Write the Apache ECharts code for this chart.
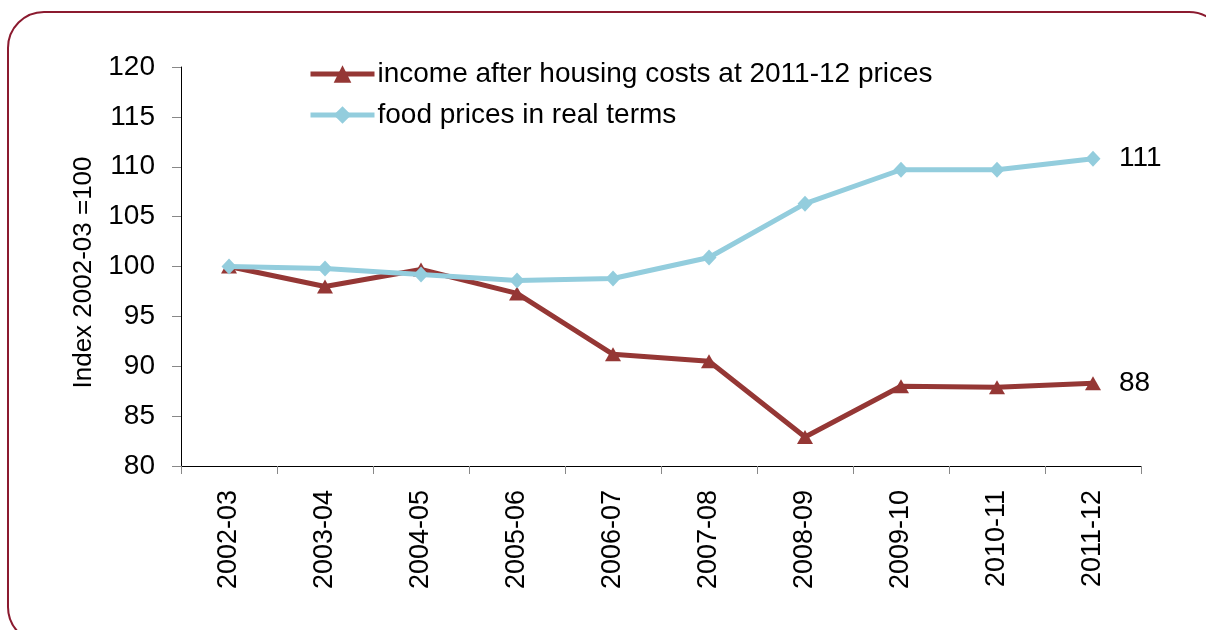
<!DOCTYPE html>
<html>
<head>
<meta charset="utf-8">
<script src="https://cdn.jsdelivr.net/npm/echarts@6/dist/echarts.min.js"></script>
<style>
  html, body { margin: 0; padding: 0; background: #fff; }
  #chart { width: 1206px; height: 630px; }
</style>
</head>
<body>
<div id="chart"></div>
<script>
// 数据
const years = ["2002-03", "2003-04", "2004-05", "2005-06", "2006-07",
  "2007-08", "2008-09", "2009-10", "2010-11", "2011-12"];
const income = [100, 98.0, 99.7, 97.3, 91.2, 90.5, 82.9, 88.0, 87.9, 88.3];
const food = [100, 99.8, 99.2, 98.6, 98.8, 100.9, 106.3, 109.7, 109.7, 110.8];

const FONT = "Liberation Sans, Arial, sans-serif";
const myChart = echarts.init(document.getElementById("chart"));

function endLabel() {
  return {
    show: true,
    distance: 26,
    color: "#000",
    fontFamily: FONT,
    fontSize: 28,
    formatter: (p) => Math.round(p.value),
  };
}

myChart.setOption({
  animation: false,
  grid: { left: 181, right: 65, top: 67, bottom: 164 },
  legend: {
    orient: "vertical",
    left: 303,
    top: 55,
    itemWidth: 64,
    itemHeight: 22,
    itemGap: 13,
    lineStyle: { width: 5 },
    textStyle: { fontFamily: FONT, fontSize: 28, color: "#000", padding: [0, 0, 0, -2] },
    data: ["income after housing costs at 2011-12 prices", "food prices in real terms"],
  },
  xAxis: {
    type: "category",
    data: years,
    boundaryGap: true,
    axisLine: { lineStyle: { color: "#000", width: 1 } },
    axisTick: { show: true, interval: 0, length: 8, lineStyle: { color: "#888" } },
    axisLabel: {
      rotate: 90,
      interval: 0,
      margin: 24,
      fontFamily: FONT,
      fontSize: 27,
      color: "#000",
    },
  },
  yAxis: {
    type: "value",
    min: 80,
    max: 120,
    interval: 5,
    name: "Index 2002-03 =100",
    nameLocation: "middle",
    nameRotate: 90,
    nameGap: 84,
    nameTextStyle: { fontFamily: FONT, fontSize: 26, color: "#000", padding: [0, 12, 0, 0] },
    splitLine: { show: false },
    axisLine: { show: true, lineStyle: { color: "#000", width: 1 } },
    axisTick: { show: true, length: 9, lineStyle: { color: "#888" } },
    axisLabel: { margin: 26, fontFamily: FONT, fontSize: 28, color: "#000" },
  },
  series: [
    {
      name: "income after housing costs at 2011-12 prices",
      type: "line",
      data: income,
      z: 2,
      color: "#953735",
      lineStyle: { width: 5, color: "#953735" },
      symbol: "triangle",
      symbolSize: [16, 14],
      itemStyle: { color: "#953735" },
      endLabel: endLabel(),
    },
    {
      name: "food prices in real terms",
      type: "line",
      data: food,
      z: 3,
      color: "#93CDDD",
      lineStyle: { width: 5, color: "#93CDDD" },
      symbol: "diamond",
      symbolSize: [15, 16],
      itemStyle: { color: "#93CDDD" },
      endLabel: endLabel(),
    },
  ],
  graphic: [
    {
      type: "rect",
      silent: true,
      shape: { x: 8, y: 12, width: 1217, height: 631, r: 36 },
      style: { fill: "none", stroke: "#8B1A2F", lineWidth: 2 },
    },
  ],
});
</script>
</body>
</html>
